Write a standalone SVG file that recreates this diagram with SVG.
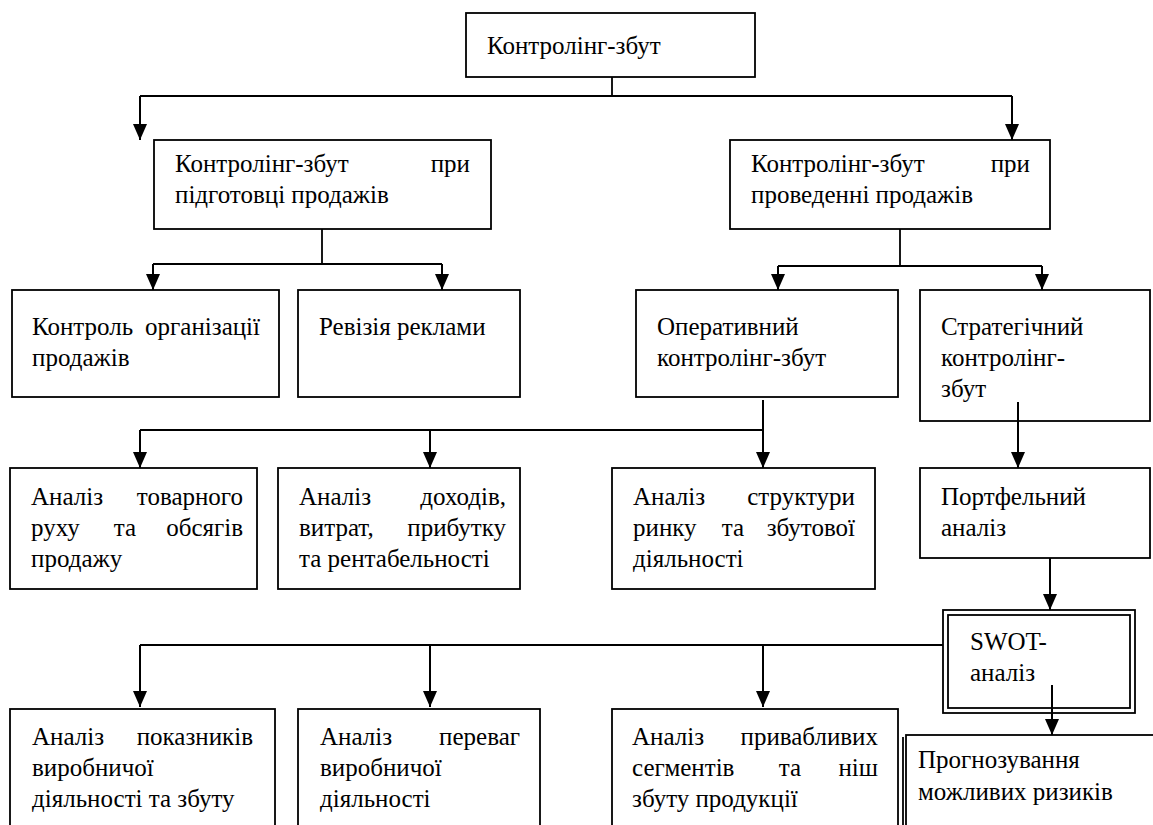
<svg xmlns="http://www.w3.org/2000/svg" width="1153" height="825" viewBox="0 0 1153 825">
<defs>
<marker id="arr" markerUnits="userSpaceOnUse" markerWidth="16" markerHeight="14" refX="16" refY="7" orient="auto" viewBox="0 0 16 14"><path d="M0,0 L16,7 L0,14 z" fill="#000"/></marker>
<style>
rect.b{fill:#fff;stroke:#000;stroke-width:1.8}
text{font-family:"Liberation Serif","Times New Roman","DejaVu Serif",serif;font-size:25px;fill:#000}
.e{text-anchor:end}
.m{text-anchor:middle}
.c{fill:none;stroke:#000;stroke-width:1.8}
.a{fill:none;stroke:#000;stroke-width:2;marker-end:url(#arr)}
</style>
</defs>
<rect width="1153" height="825" fill="#fff"/>
<g id="n-top"><rect class="b" x="466" y="13" width="289" height="64"/><text x="487" y="54">Контролінг-збут</text></g>
<g id="n-prep"><rect class="b" x="154" y="140" width="337" height="89"/><text x="175" y="172">Контролінг-збут</text><text class="e" x="470" y="172">при</text><text x="175" y="203">підготовці продажів</text></g>
<g id="n-cond"><rect class="b" x="730" y="140" width="320" height="89"/><text x="751" y="172">Контролінг-збут</text><text class="e" x="1030" y="172">при</text><text x="751" y="203">проведенні продажів</text></g>
<g id="n-org"><rect class="b" x="12" y="290" width="267" height="107"/><text x="32" y="335">Контроль</text><text class="e" x="260" y="335">організації</text><text x="32" y="366">продажів</text></g>
<g id="n-adv"><rect class="b" x="298" y="290" width="222" height="107"/><text x="319" y="335">Ревізія реклами</text></g>
<g id="n-oper"><rect class="b" x="636" y="290" width="262" height="107"/><text x="657" y="335">Оперативний</text><text x="657" y="366">контролінг-збут</text></g>
<g id="n-strat"><rect class="b" x="920" y="290" width="230" height="131"/><text x="941" y="335">Стратегічний</text><text x="941" y="366">контролінг-</text><text x="941" y="397">збут</text></g>
<g id="n-goods"><rect class="b" x="10" y="468" width="247" height="121"/><text x="31" y="505">Аналіз</text><text class="e" x="243" y="505">товарного</text><text x="31" y="536">руху</text><text class="m" x="125" y="536">та</text><text class="e" x="243" y="536">обсягів</text><text x="31" y="567">продажу</text></g>
<g id="n-income"><rect class="b" x="278" y="468" width="242" height="121"/><text x="299" y="505">Аналіз</text><text class="e" x="506" y="505">доходів,</text><text x="299" y="536">витрат,</text><text class="e" x="506" y="536">прибутку</text><text x="299" y="567">та рентабельності</text></g>
<g id="n-market"><rect class="b" x="612" y="468" width="263" height="121"/><text x="633" y="505">Аналіз</text><text class="e" x="855" y="505">структури</text><text x="633" y="536">ринку</text><text class="m" x="733" y="536">та</text><text class="e" x="855" y="536">збутової</text><text x="633" y="567">діяльності</text></g>
<g id="n-portf"><rect class="b" x="920" y="468" width="230" height="90"/><text x="941" y="505">Портфельний</text><text x="941" y="536">аналіз</text></g>
<g id="n-swot"><rect class="b" x="943" y="610" width="192" height="103"/><rect class="b" x="948" y="615" width="182" height="93"/><text x="970" y="650">SWOT-</text><text x="970" y="681">аналіз</text></g>
<g id="n-prod"><rect class="b" x="10" y="709" width="265" height="140"/><text x="32" y="745">Аналіз</text><text class="e" x="253" y="745">показників</text><text x="32" y="776">виробничої</text><text x="32" y="807">діяльності та збуту</text></g>
<g id="n-pref"><rect class="b" x="298" y="709" width="242" height="140"/><text x="320" y="745">Аналіз</text><text class="e" x="520" y="745">переваг</text><text x="320" y="776">виробничої</text><text x="320" y="807">діяльності</text></g>
<g id="n-segm"><rect class="b" x="612" y="709" width="286" height="140"/><text x="632" y="745">Аналіз</text><text class="e" x="878" y="745">привабливих</text><text x="632" y="776">сегментів</text><text class="m" x="790" y="776">та</text><text class="e" x="878" y="776">ніш</text><text x="632" y="807">збуту продукції</text></g>
<g id="n-risk"><rect class="b" x="906" y="735" width="260" height="120"/><path class="c" d="M903,737 V825" stroke-width="1"/><text x="918" y="768">Прогнозування</text><text x="918" y="800">можливих ризиків</text></g>
<g id="connectors">
<path class="c" d="M612,77 V96 M140,96 H1012"/>
<path class="a" d="M140,96 V140"/>
<path class="a" d="M1012,96 V140"/>
<path class="c" d="M322,229 V264 M153,264 H442"/>
<path class="a" d="M153,264 V290"/>
<path class="a" d="M442,264 V290"/>
<path class="c" d="M900,229 V266 M778,266 H1042"/>
<path class="a" d="M778,266 V290"/>
<path class="a" d="M1042,266 V290"/>
<path class="c" d="M140,430 H763"/>
<path class="a" d="M763,400 V468"/>
<path class="a" d="M140,430 V468"/>
<path class="a" d="M430,430 V468"/>
<path class="a" d="M1018,402 V468"/>
<path class="a" d="M1050,558 V610"/>
<path class="c" d="M140,645 H943"/>
<path class="a" d="M140,645 V707"/>
<path class="a" d="M430,645 V707"/>
<path class="a" d="M763,645 V707"/>
<path class="a" d="M1052,685 V735"/>
</g>
</svg>
